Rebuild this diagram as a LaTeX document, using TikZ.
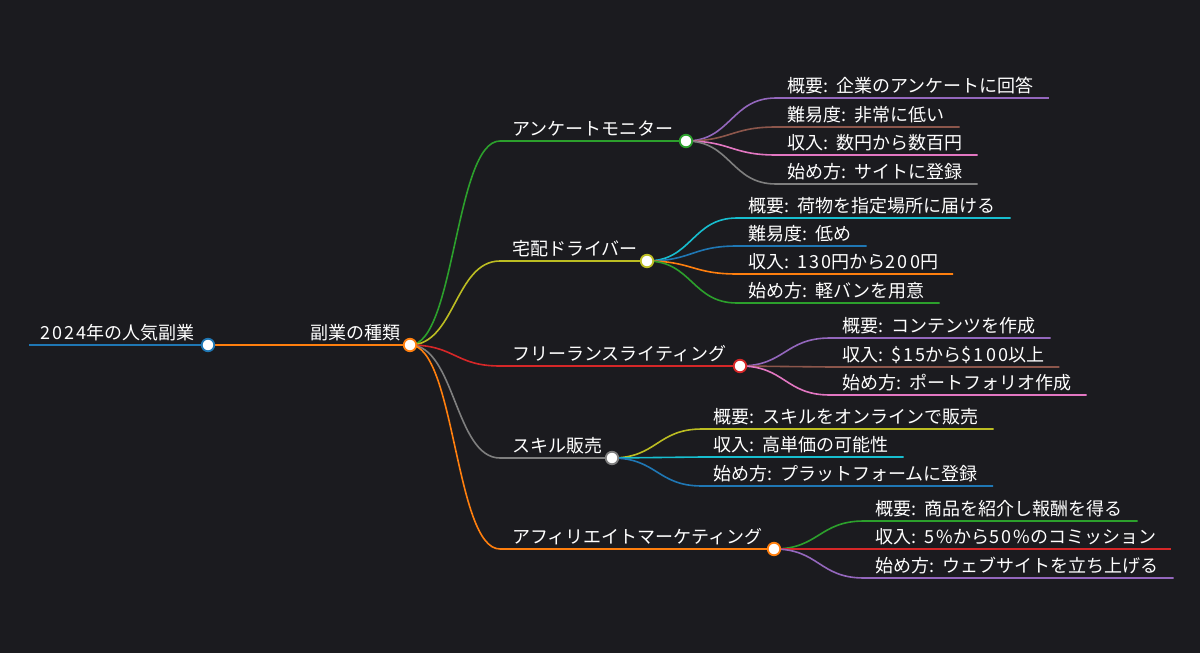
\documentclass[tikz,border=0pt]{standalone}
\usepackage{fontspec}
\setmainfont{Noto Sans CJK JP}
\newfontfamily\latn[LetterSpace=12]{Noto Sans CJK JP}
\usetikzlibrary{positioning,calc}

\definecolor{bgdark}{HTML}{1B1B1F}
\definecolor{cblue}{HTML}{1F77B4}
\definecolor{corange}{HTML}{FF7F0E}
\definecolor{cgreen}{HTML}{2CA02C}
\definecolor{cred}{HTML}{D62728}
\definecolor{cpurple}{HTML}{9467BD}
\definecolor{cbrown}{HTML}{8C564B}
\definecolor{cpink}{HTML}{E377C2}
\definecolor{cgray}{HTML}{7F7F7F}
\definecolor{colive}{HTML}{BCBD22}
\definecolor{ccyan}{HTML}{17BECF}

\pgfdeclarelayer{links}
\pgfsetlayers{links,main}

\tikzset{
  lbl/.style={anchor=base west, inner sep=0pt, text=white, font=\fontsize{18}{22}\selectfont},
  dot/.style={circle, draw=#1, fill=white, line width=1.8pt, minimum size=12.5pt, inner sep=0pt},
  link/.style={draw=#1, line width=1.6pt, out=0, in=180, distance=45pt},
  uline/.style={draw=#1, line width=1.6pt}
}

\begin{document}
\begin{tikzpicture}[x=1pt,y=-1pt]
  \begin{pgfonlayer}{links}
    \fill[bgdark] (0,0) rectangle (1200,653);
  \end{pgfonlayer}
  \useasboundingbox (0,0) rectangle (1200,653);

  % root and first level
  \coordinate (s-root) at (29,345);
  \node[lbl] (root-t) at (40,339) {{\latn 2024}年の人気副業};
  \node[dot=cblue] (root) at (208,345) {};
  \coordinate (s-shurui) at (298,345);
  \node[lbl] (shurui-t) at (310,339) {副業の種類};
  \node[dot=corange] (shurui) at (410,345) {};

  % second level
  \coordinate (s-anketo) at (500,141);
  \node[lbl] (anketo-t) at (512,135) {アンケートモニター};
  \node[dot=cgreen] (anketo) at (686,141) {};
  \coordinate (s-takuhai) at (500,261);
  \node[lbl] (takuhai-t) at (512,255) {宅配ドライバー};
  \node[dot=colive] (takuhai) at (647,261) {};
  \coordinate (s-writing) at (500,366);
  \node[lbl] (writing-t) at (512,360) {フリーランスライティング};
  \node[dot=cred] (writing) at (740,366) {};
  \coordinate (s-skill) at (500,458);
  \node[lbl] (skill-t) at (512,452) {スキル販売};
  \node[dot=cgray] (skill) at (612,458) {};
  \coordinate (s-affili) at (500,549);
  \node[lbl] (affili-t) at (512,543) {アフィリエイトマーケティング};
  \node[dot=corange] (affili) at (774,549) {};

  % leaves: anketo
  \coordinate (s-a1) at (776,98);
  \node[lbl] (a1) at (787,92) {概要{\latn: }企業のアンケートに回答};
  \coordinate (s-a2) at (776,127);
  \node[lbl] (a2) at (787,121) {難易度{\latn: }非常に低い};
  \coordinate (s-a3) at (776,155);
  \node[lbl] (a3) at (787,149) {収入{\latn: }数円から数百円};
  \coordinate (s-a4) at (776,184);
  \node[lbl] (a4) at (787,178) {始め方{\latn: }サイトに登録};

  % leaves: takuhai
  \coordinate (s-t1) at (737,218);
  \node[lbl] (t1) at (748,212) {概要{\latn: }荷物を指定場所に届ける};
  \coordinate (s-t2) at (737,246);
  \node[lbl] (t2) at (748,240) {難易度{\latn: }低め};
  \coordinate (s-t3) at (737,274);
  \node[lbl] (t3) at (748,268) {収入{\latn: 130}円から{\latn 200}円};
  \coordinate (s-t4) at (737,303);
  \node[lbl] (t4) at (748,297) {始め方{\latn: }軽バンを用意};

  % leaves: writing
  \coordinate (s-w1) at (830,338);
  \node[lbl] (w1) at (842,332) {概要{\latn: }コンテンツを作成};
  \coordinate (s-w2) at (830,367);
  \node[lbl] (w2) at (842,361) {収入{\latn: \$15}から{\latn \$100}以上};
  \coordinate (s-w3) at (830,395);
  \node[lbl] (w3) at (842,389) {始め方{\latn: }ポートフォリオ作成};

  % leaves: skill
  \coordinate (s-k1) at (702,429);
  \node[lbl] (k1) at (713,423) {概要{\latn: }スキルをオンラインで販売};
  \coordinate (s-k2) at (702,457);
  \node[lbl] (k2) at (713,451) {収入{\latn: }高単価の可能性};
  \coordinate (s-k3) at (702,486);
  \node[lbl] (k3) at (713,480) {始め方{\latn: }プラットフォームに登録};

  % leaves: affili
  \coordinate (s-f1) at (864,521);
  \node[lbl] (f1) at (875,515) {概要{\latn: }商品を紹介し報酬を得る};
  \coordinate (s-f2) at (864,549);
  \node[lbl] (f2) at (875,543) {収入{\latn: 5\%}から{\latn 50\%}のコミッション};
  \coordinate (s-f3) at (864,578);
  \node[lbl] (f3) at (875,572) {始め方{\latn: }ウェブサイトを立ち上げる};

  \begin{pgfonlayer}{links}
    \draw[uline=cblue] (s-root) -- (root.center);
    \draw[link=corange] (root.center) -- (s-shurui) -- (shurui.center);

    \draw[link=cgreen] (shurui.center) to (s-anketo) -- (anketo.center);
    \draw[link=colive] (shurui.center) to (s-takuhai) -- (takuhai.center);
    \draw[link=cred] (shurui.center) to (s-writing) -- (writing.center);
    \draw[link=cgray] (shurui.center) to (s-skill) -- (skill.center);
    \draw[link=corange] (shurui.center) to (s-affili) -- (affili.center);

    \draw[link=cpurple] (anketo.center) to (s-a1) -- ($(s-a1 -| a1.east)+(15,0)$);
    \draw[link=cbrown] (anketo.center) to (s-a2) -- ($(s-a2 -| a2.east)+(15,0)$);
    \draw[link=cpink] (anketo.center) to (s-a3) -- ($(s-a3 -| a3.east)+(15,0)$);
    \draw[link=cgray] (anketo.center) to (s-a4) -- ($(s-a4 -| a4.east)+(15,0)$);

    \draw[link=ccyan] (takuhai.center) to (s-t1) -- ($(s-t1 -| t1.east)+(15,0)$);
    \draw[link=cblue] (takuhai.center) to (s-t2) -- ($(s-t2 -| t2.east)+(15,0)$);
    \draw[link=corange] (takuhai.center) to (s-t3) -- ($(s-t3 -| t3.east)+(15,0)$);
    \draw[link=cgreen] (takuhai.center) to (s-t4) -- ($(s-t4 -| t4.east)+(15,0)$);

    \draw[link=cpurple] (writing.center) to (s-w1) -- ($(s-w1 -| w1.east)+(15,0)$);
    \draw[link=cbrown] (writing.center) to (s-w2) -- ($(s-w2 -| w2.east)+(15,0)$);
    \draw[link=cpink] (writing.center) to (s-w3) -- ($(s-w3 -| w3.east)+(15,0)$);

    \draw[link=colive] (skill.center) to (s-k1) -- ($(s-k1 -| k1.east)+(15,0)$);
    \draw[link=ccyan] (skill.center) to (s-k2) -- ($(s-k2 -| k2.east)+(15,0)$);
    \draw[link=cblue] (skill.center) to (s-k3) -- ($(s-k3 -| k3.east)+(15,0)$);

    \draw[link=cgreen] (affili.center) to (s-f1) -- ($(s-f1 -| f1.east)+(15,0)$);
    \draw[link=cred] (affili.center) to (s-f2) -- ($(s-f2 -| f2.east)+(15,0)$);
    \draw[link=cpurple] (affili.center) to (s-f3) -- ($(s-f3 -| f3.east)+(15,0)$);
  \end{pgfonlayer}
\end{tikzpicture}
\end{document}
